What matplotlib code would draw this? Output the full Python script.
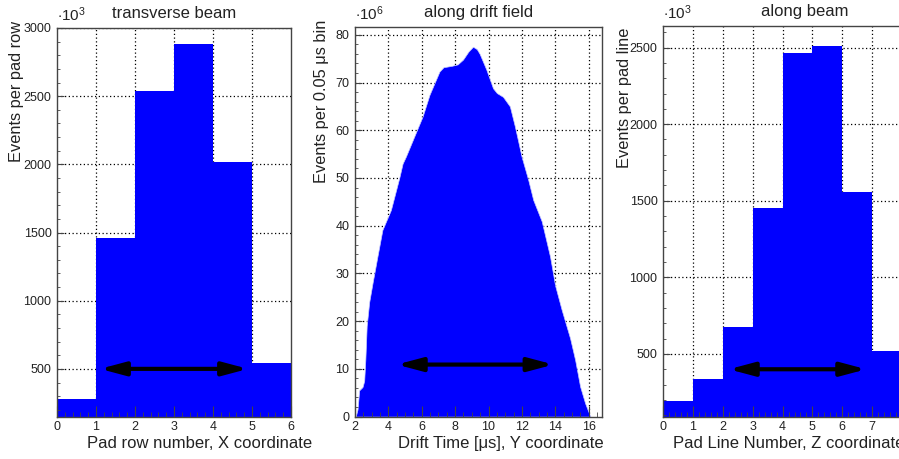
import numpy as np
import matplotlib
matplotlib.use("Agg")
import matplotlib.pyplot as plt
from matplotlib.ticker import MultipleLocator

plt.rcParams['font.family'] = ['Liberation Sans', 'DejaVu Sans']
plt.rcParams['mathtext.fontset'] = 'custom'
plt.rcParams['mathtext.rm'] = 'Liberation Sans'
plt.rcParams['mathtext.it'] = 'Liberation Sans'

BLUE = '#0000ff'
TXT = '#222222'
FRAME = '#444444'

# transverse beam: events per pad row (x 10^3)
row_edges = [0, 1, 2, 3, 4, 5, 6]
row_counts = [280, 1460, 2540, 2880, 2020, 542]

# along drift field: events per 0.05 us bin (x 10^6)
drift_t = [2.04, 2.15, 2.25, 2.45, 2.55, 2.62, 2.7, 2.85, 3.05, 3.34, 3.64, 4.15,
           4.65, 4.85, 5.05, 5.55, 6.05, 6.46, 7.06, 7.3, 7.8, 8.15, 8.47, 8.8,
           9.07, 9.3, 9.47, 9.87, 10.27, 10.5, 10.87, 11.28, 11.58, 11.98, 12.38,
           12.68, 13.19, 13.69, 13.99, 14.39, 14.89, 15.19, 15.49, 15.79, 15.99, 16.1]
drift_n = [0, 1.5, 5.5, 6.2, 7.5, 12, 19, 24, 28, 33.5, 39.1, 43.3,
           50, 53, 54.5, 58.7, 62.9, 67.4, 72.3, 73.2, 73.5, 73.8, 74.8, 76.5,
           77.5, 77.0, 76.0, 72.7, 68.8, 67.8, 67.0, 65.0, 60.8, 54.5, 49.6,
           45.4, 40.9, 33.5, 27.5, 22.3, 16.4, 11.9, 6.3, 2.8, 1.0, 0]

# along beam: events per pad line (x 10^3)
line_edges = [0, 1, 2, 3, 4, 5, 6, 7, 8, 9]
line_counts = [196, 335, 676, 1454, 2463, 2513, 1556, 520, 520]

# arrows: (x0, x1, y)
arrow_row = (1.1, 4.9, 500)
arrow_drift = (4.5, 13.9, 10.9)
arrow_line = (2.2, 6.8, 400)

fig = plt.figure(figsize=(8.99, 4.59), dpi=100)
ax1 = fig.add_axes([0.0634, 0.0915, 0.2603, 0.8475])
ax2 = fig.add_axes([0.3949, 0.0924, 0.2747, 0.8495])
ax3 = fig.add_axes([0.7375, 0.0924, 0.2992, 0.851])


def style(ax, xmaj, xmin, ymaj, ymin):
    ax.xaxis.set_major_locator(MultipleLocator(xmaj))
    ax.xaxis.set_minor_locator(MultipleLocator(xmin))
    ax.yaxis.set_major_locator(MultipleLocator(ymaj))
    ax.yaxis.set_minor_locator(MultipleLocator(ymin))
    ax.tick_params(which='both', direction='in', top=False, right=False,
                   colors=FRAME, labelcolor=TXT, labelsize=9)
    ax.tick_params(axis='x', which='major', length=8, pad=3)
    ax.tick_params(axis='x', which='minor', length=3.5)
    ax.tick_params(axis='y', which='major', length=5, pad=4)
    ax.tick_params(axis='y', which='minor', length=2.5)
    for s in ax.spines.values():
        s.set_color(FRAME)
        s.set_linewidth(1.0)
    x0, x1 = ax.get_xlim()
    y0, y1 = ax.get_ylim()
    for v in ax.get_xticks():
        if x0 < v < x1:
            ax.axvline(v, color='black', ls=(0, (1, 2)), lw=0.9, zorder=0.5)
    for v in ax.get_yticks():
        if y0 < v <= y1:
            ax.axhline(v, color='black', ls=(0, (1, 2)), lw=0.9, zorder=0.5)


def arrow(ax, a):
    ax.annotate('', xy=(a[1], a[2]), xytext=(a[0], a[2]),
                arrowprops=dict(arrowstyle='<|-|>,head_length=1.5,head_width=0.4',
                                lw=3, color='black', shrinkA=0, shrinkB=0),
                zorder=5)


def labels(ax, title, xl, yl, expo, xlx, yly, ylx, tx=0.5):
    ax.set_title(title, fontsize=12, color=TXT, pad=7, x=tx)
    ax.set_xlabel(xl, fontsize=12, color=TXT, loc='left')
    ax.xaxis.set_label_coords(xlx, -0.05)
    ax.xaxis.label.set_va('top')
    ax.set_ylabel(yl, fontsize=11.8, color=TXT, loc='top')
    ax.yaxis.label.set_va('center')
    ax.yaxis.set_label_coords(ylx, yly)
    ax.text(0.0, 1.01, expo, transform=ax.transAxes, fontsize=11,
            color=TXT, ha='left', va='bottom')


# panel 1
ax1.stairs(row_counts, row_edges, fill=True, color=BLUE, baseline=0, zorder=1)
ax1.set_xlim(0, 6)
ax1.set_ylim(147, 3000)
style(ax1, 1, 0.2, 500, 100)
arrow(ax1, arrow_row)
labels(ax1, 'transverse beam', 'Pad row number, X coordinate',
       'Events per pad row', r'$\cdot 10^{3}$', 0.128, 1.018, -0.171)

# panel 2
ax2.fill_between(drift_t, drift_n, 0, color=BLUE, lw=0.5, edgecolor='#c8ccff', zorder=1)
ax2.set_xlim(2, 16.8)
ax2.set_ylim(0, 81.7)
style(ax2, 2, 0.5, 10, 2)
arrow(ax2, arrow_drift)
labels(ax2, 'along drift field', 'Drift Time [μs], Y coordinate',
       'Events per 0.05 μs bin', r'$\cdot 10^{6}$', 0.174, 1.017, -0.134)

# panel 3
ax3.stairs(line_counts, line_edges, fill=True, color=BLUE, baseline=0, zorder=1)
ax3.set_xlim(0, 9)
ax3.set_ylim(91, 2641)
style(ax3, 1, 0.2, 500, 100)
arrow(ax3, arrow_line)
labels(ax3, 'along beam', 'Pad Line Number, Z coordinate',
       'Events per pad line', r'$\cdot 10^{3}$', 0.037, 0.997, -0.142, tx=0.528)

fig.savefig('out.png', dpi=100)
